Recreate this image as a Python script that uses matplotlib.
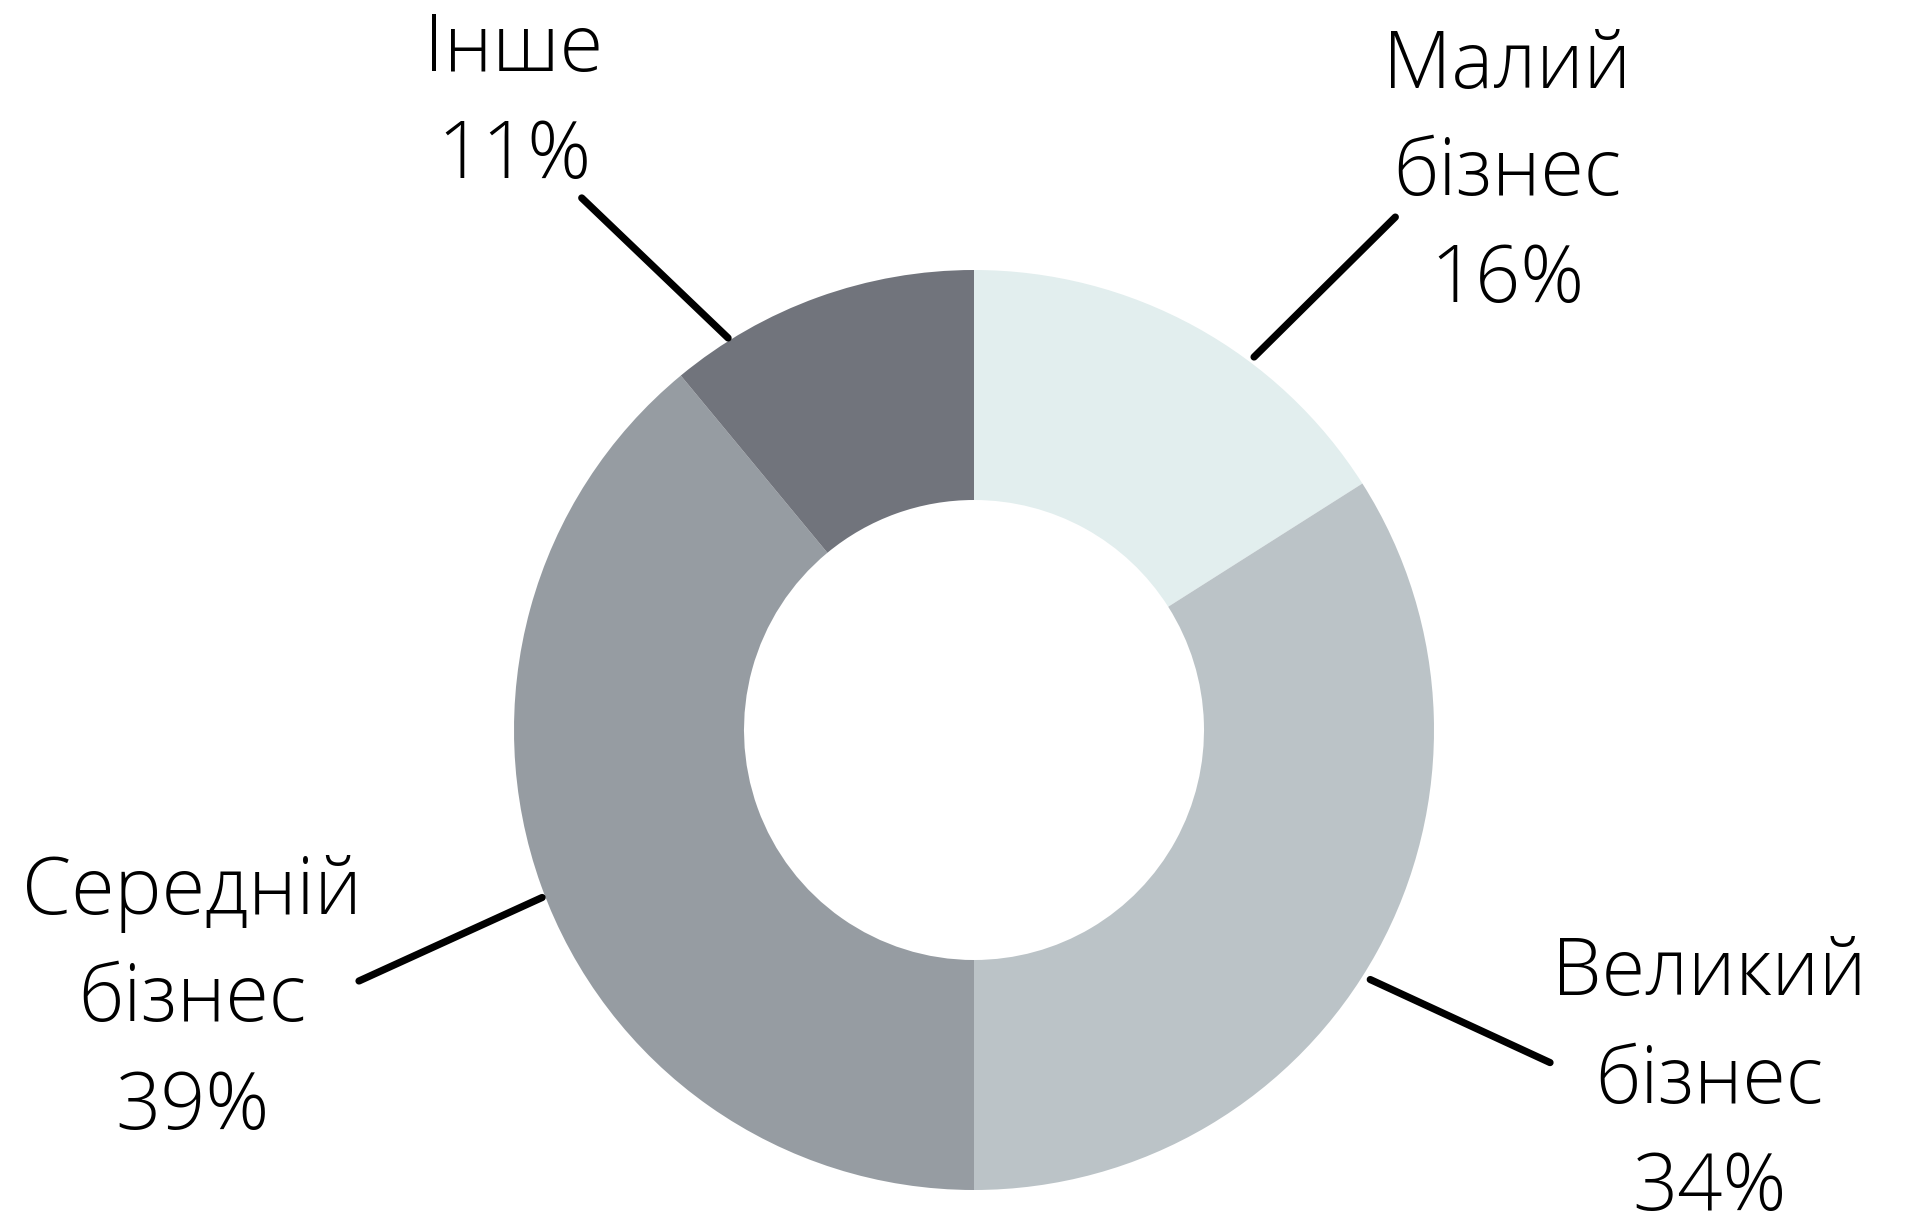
"""Donut chart of business segments."""
import numpy as np
import matplotlib
matplotlib.use('Agg')
import matplotlib.pyplot as plt

labels = ['Малий\nбізнес', 'Великий\nбізнес', 'Середній\nбізнес', 'Інше']
shares = [16, 34, 39, 11]
colors = ['#E2EEEE', '#BBC3C7', '#969CA2', '#71747C']

# leader lines: (start angle, start r, end angle, end r) in degrees / radius units
leaders = [(53.1, 1.014, 50.6, 1.443),
           (-32.2, 1.018, -30.0, 1.446),
           (-158.8, 1.007, -157.8, 1.444),
           (122.1, 1.006, 126.4, 1.437)]
# label block centres (x, y) in radius units
label_pos = [(1.159, 1.208), (1.598, -0.765), (-1.70, -0.588), (-1.0, 1.362)]

plt.rcParams['font.family'] = ['Open Sans', 'DejaVu Sans']

fig = plt.figure(figsize=(19.09, 12.17), dpi=100)
ax = fig.add_axes([0, 0, 1, 1])
ax.pie(shares, colors=colors, startangle=90, counterclock=False,
       radius=1, wedgeprops=dict(width=0.5, linewidth=0))

for (a0, r0, a1, r1) in leaders:
    t0, t1 = np.radians(a0), np.radians(a1)
    ax.plot([r0 * np.cos(t0), r1 * np.cos(t1)],
            [r0 * np.sin(t0), r1 * np.sin(t1)],
            color='black', lw=5.2, solid_capstyle='round')

for lab, val, (x, y) in zip(labels, shares, label_pos):
    ax.text(x, y, f'{lab}\n{val}%', ha='center', va='center',
            fontsize=57, fontweight='light', linespacing=1.46, color='black')

ax.set_xlim(-974 / 460, (1909 - 974) / 460)
ax.set_ylim(-(1217 - 730) / 460, 730 / 460)
ax.axis('off')

fig.savefig('out.png', dpi=100, facecolor='white')
